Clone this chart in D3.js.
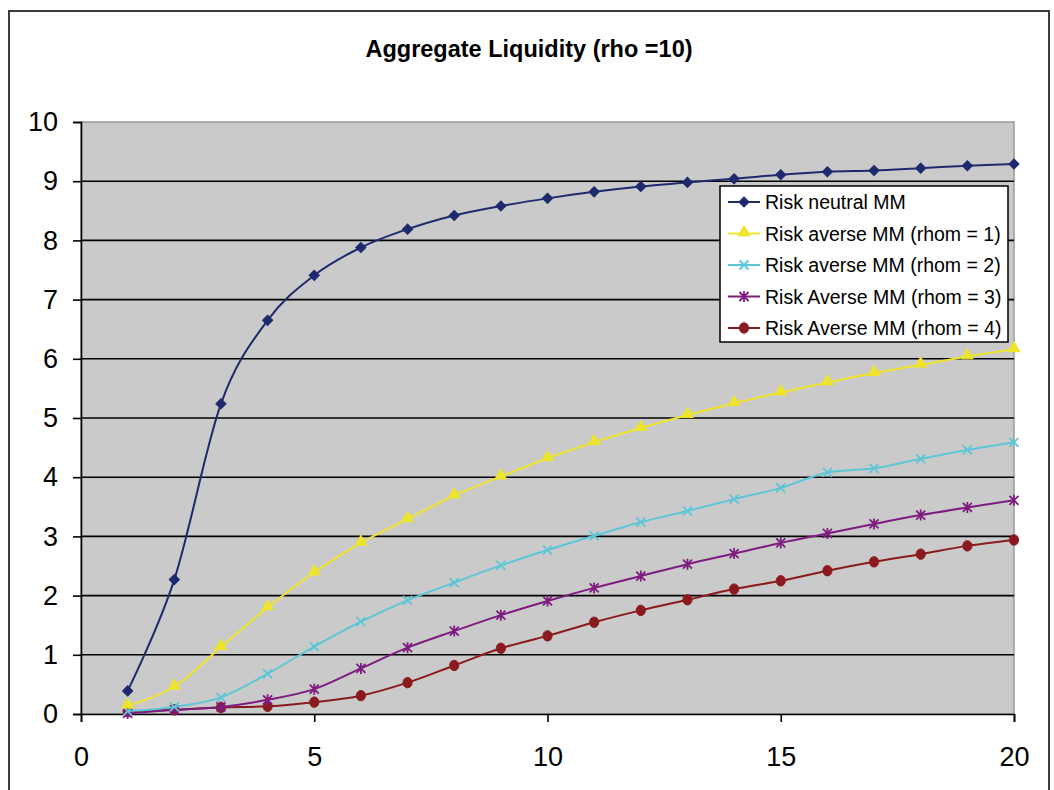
<!DOCTYPE html>
<html>
<head>
<meta charset="utf-8">
<script src="https://cdn.jsdelivr.net/npm/d3@7"></script>
<style>
  html, body { margin: 0; padding: 0; background: #ffffff; }
  svg { display: block; font-family: "Liberation Sans", Arial, sans-serif; }
</style>
</head>
<body>
<svg id="chart" width="1054" height="790"></svg>
<script>
// ---- Data ----
const title = "Aggregate Liquidity (rho =10)";
const xValues = [1, 2, 3, 4, 5, 6, 7, 8, 9, 10, 11, 12, 13, 14, 15, 16, 17, 18, 19, 20];
const seriesNames = [
  "Risk neutral MM",
  "Risk averse MM (rhom = 1)",
  "Risk averse MM (rhom = 2)",
  "Risk Averse MM (rhom = 3)",
  "Risk Averse MM (rhom = 4)"
];
const riskNeutral = [0.39, 2.27, 5.24, 6.65, 7.41, 7.88, 8.19, 8.42, 8.58, 8.71, 8.82, 8.91, 8.98, 9.04, 9.11, 9.16, 9.18, 9.22, 9.26, 9.29];
const rhom1 = [0.14, 0.46, 1.13, 1.80, 2.39, 2.89, 3.29, 3.69, 4.01, 4.32, 4.59, 4.83, 5.05, 5.25, 5.43, 5.60, 5.76, 5.90, 6.04, 6.16];
const rhom2 = [0.05, 0.12, 0.28, 0.68, 1.14, 1.56, 1.92, 2.22, 2.51, 2.77, 3.01, 3.24, 3.43, 3.63, 3.82, 4.08, 4.15, 4.31, 4.46, 4.59];
const rhom3 = [0.01, 0.07, 0.12, 0.24, 0.42, 0.77, 1.12, 1.40, 1.67, 1.91, 2.13, 2.33, 2.53, 2.71, 2.89, 3.05, 3.21, 3.36, 3.49, 3.61];
const rhom4 = [0.04, 0.07, 0.11, 0.13, 0.20, 0.31, 0.53, 0.82, 1.11, 1.32, 1.55, 1.75, 1.93, 2.11, 2.25, 2.42, 2.57, 2.70, 2.84, 2.94];
const xTicks = [0, 5, 10, 15, 20];
const yTicks = [0, 1, 2, 3, 4, 5, 6, 7, 8, 9, 10];

// ---- Styles ----
const colors = ["#1f2a6e", "#eee42a", "#5cc6d6", "#7e1c80", "#8b1a1f"];
const markers = ["diamond", "triangle", "x", "star", "circle"];
const seriesValues = [riskNeutral, rhom1, rhom2, rhom3, rhom4];

const svg = d3.select("#chart");
const W = 1054, H = 790;
const plot = { left: 81, right: 1014, top: 122, bottom: 714 };

// outer chart border
svg.append("rect")
  .attr("x", 9).attr("y", 11).attr("width", 1040).attr("height", 800)
  .attr("fill", "#ffffff").attr("stroke", "#3a3a3a").attr("stroke-width", 2);

// title
svg.append("text")
  .attr("x", 529).attr("y", 57)
  .attr("text-anchor", "middle")
  .attr("font-size", 23.5).attr("font-weight", "bold")
  .attr("fill", "#000")
  .text(title);

const x = d3.scaleLinear().domain([0, 20]).range([plot.left, plot.right]);
const y = d3.scaleLinear().domain([0, 10]).range([plot.bottom, plot.top]);

// plot area
svg.append("rect")
  .attr("x", plot.left).attr("y", plot.top)
  .attr("width", plot.right - plot.left).attr("height", plot.bottom - plot.top)
  .attr("fill", "#cacaca").attr("stroke", "#9a9a9a").attr("stroke-width", 1.5);

// gridlines
svg.append("g").selectAll("line")
  .data(yTicks.filter(d => d > 0 && d < 10))
  .join("line")
  .attr("x1", plot.left).attr("x2", plot.right)
  .attr("y1", d => y(d)).attr("y2", d => y(d))
  .attr("stroke", "#000").attr("stroke-width", 1.6);

// y axis
const yAxis = svg.append("g")
  .attr("transform", `translate(${plot.left},0)`)
  .call(d3.axisLeft(y).tickValues(yTicks).tickSize(8).tickPadding(15).tickFormat(d3.format("d")));
yAxis.select(".domain").attr("stroke", "#000").attr("stroke-width", 1.6);
yAxis.selectAll(".tick line").attr("stroke", "#000").attr("stroke-width", 1.6);
yAxis.selectAll(".tick text")
  .attr("font-size", 27).attr("fill", "#000")
  .attr("font-family", "'Liberation Sans', Arial, sans-serif");

// x axis
const xAxis = svg.append("g")
  .attr("transform", `translate(0,${plot.bottom})`)
  .call(d3.axisBottom(x).tickValues(xTicks).tickSize(8).tickPadding(25).tickFormat(d3.format("d")));
xAxis.select(".domain").attr("stroke", "#000").attr("stroke-width", 1.6);
xAxis.selectAll(".tick line").attr("stroke", "#000").attr("stroke-width", 1.6);
xAxis.selectAll(".tick text")
  .attr("font-size", 27).attr("fill", "#000")
  .attr("font-family", "'Liberation Sans', Arial, sans-serif");

// marker drawing
function drawMarker(g, type, color) {
  if (type === "diamond") {
    g.append("path").attr("d", d3.symbol(d3.symbolSquare, 52)())
      .attr("transform", "rotate(45)").attr("fill", color).attr("stroke", color).attr("stroke-width", 1);
  } else if (type === "triangle") {
    g.append("path").attr("d", d3.symbol(d3.symbolTriangle, 60)())
      .attr("transform", "translate(0,-1)")
      .attr("fill", color).attr("stroke", color).attr("stroke-width", 1);
  } else if (type === "x") {
    g.append("path").attr("d", "M-4.5,-4.5L4.5,4.5M-4.5,4.5L4.5,-4.5")
      .attr("stroke", color).attr("stroke-width", 1.8).attr("fill", "none");
  } else if (type === "star") {
    g.append("path").attr("d", "M-4.5,-4.5L4.5,4.5M-4.5,4.5L4.5,-4.5M0,-5.5L0,5.5")
      .attr("stroke", color).attr("stroke-width", 1.8).attr("fill", "none");
  } else if (type === "circle") {
    g.append("ellipse").attr("rx", 4.6).attr("ry", 5.2)
      .attr("fill", color).attr("stroke", color).attr("stroke-width", 1);
  }
}

const line = d3.line()
  .x(d => x(d[0])).y(d => y(d[1]))
  .curve(d3.curveCatmullRom.alpha(0));

// series (draw last series first so first series is on top)
for (let i = seriesValues.length - 1; i >= 0; i--) {
  const pts = xValues.map((xv, j) => [xv, seriesValues[i][j]]);
  const g = svg.append("g").attr("class", "series");
  g.append("path").datum(pts)
    .attr("d", line)
    .attr("fill", "none").attr("stroke", colors[i]).attr("stroke-width", 2);
  g.selectAll("g.pt").data(pts).join("g").attr("class", "pt")
    .attr("transform", d => `translate(${x(d[0])},${y(d[1])})`)
    .each(function () { drawMarker(d3.select(this), markers[i], colors[i]); });
}

// legend
const legend = svg.append("g");
legend.append("rect")
  .attr("x", 720).attr("y", 186).attr("width", 288).attr("height", 156)
  .attr("fill", "#ffffff").attr("stroke", "#000").attr("stroke-width", 1.5);
const rowY = d3.scalePoint().domain(seriesNames).range([202, 328]);
seriesNames.forEach((name, i) => {
  const ry = rowY(name);
  legend.append("line")
    .attr("x1", 728).attr("x2", 760).attr("y1", ry).attr("y2", ry)
    .attr("stroke", colors[i]).attr("stroke-width", 2);
  const mg = legend.append("g").attr("transform", `translate(744,${ry})`);
  drawMarker(mg, markers[i], colors[i]);
  legend.append("text")
    .attr("x", 765).attr("y", ry + 7)
    .attr("font-size", 19.5).attr("fill", "#000")
    .text(name);
});
</script>
</body>
</html>
